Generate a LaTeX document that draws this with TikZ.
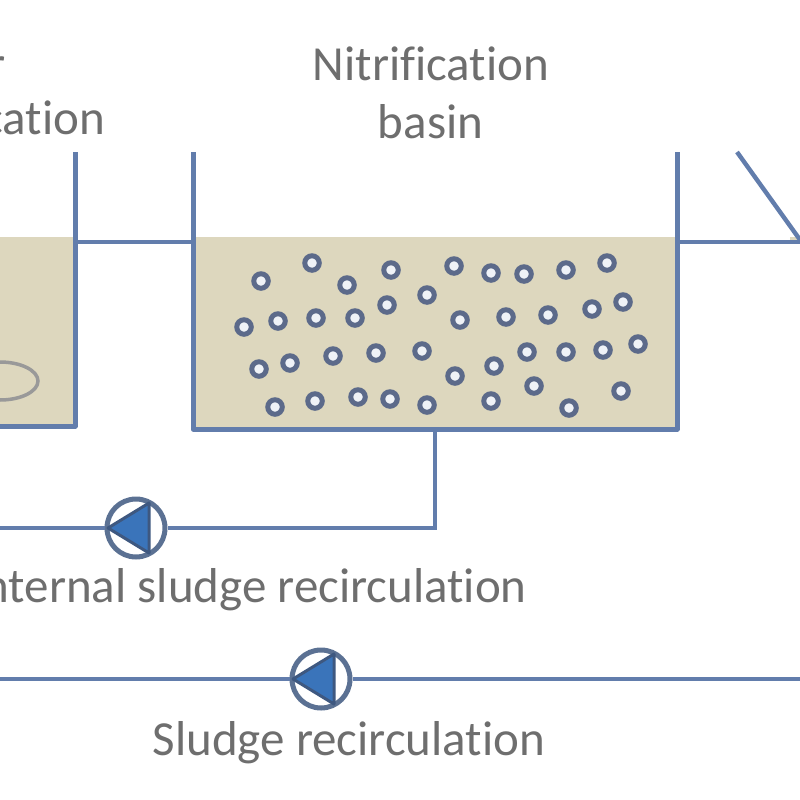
\documentclass[tikz,border=0pt]{standalone}
\usepackage{fontspec}
\usetikzlibrary{shapes.geometric}
\setmainfont[Ligatures=NoCommon]{Carlito}
\definecolor{pipeblue}{RGB}{98,125,172}
\definecolor{sludge}{RGB}{221,215,190}
\definecolor{ringblue}{RGB}{92,106,138}
\definecolor{pumpblue}{RGB}{58,116,186}
\definecolor{pumpdark}{RGB}{62,88,128}
\definecolor{labelgrey}{RGB}{110,110,110}
\tikzset{
  pipe/.style={draw=pipeblue,line width=4pt},
  wall/.style={draw=pipeblue,line width=5pt,line join=round},
  bead/.style={circle,draw=ringblue,fill=white!90!pipeblue,line width=5pt,minimum size=14.5pt,inner sep=0pt},
  pumpbody/.style={circle,draw=pumpdark!85,fill=white,line width=5pt,minimum size=58pt,inner sep=0pt},
  lbl/.style={text=labelgrey,font=\fontsize{49}{49}\selectfont,inner sep=0pt},
}
\begin{document}
\begin{tikzpicture}[x=1pt,y=-1pt]
\useasboundingbox (0,0) rectangle (800,800);
\clip (0,0) rectangle (800,800);
% sludge
\fill[sludge] (0,237) rectangle (75,426);
\fill[sludge] (193,237) rectangle (677,429);
\fill[sludge] (790,237) rectangle (800,240);
% ellipse
\node[ellipse,draw=gray!80,line width=3.5pt,minimum width=76pt,minimum height=38pt,inner sep=0pt] (disc) at (0,381) {};
% coordinates of walls
\coordinate (lwalltop) at (75,152);
\coordinate (lwallbot) at (75,426);
\coordinate (lwallend) at (-5,426);
\coordinate (bwalltl) at (193,152);
\coordinate (bwallbl) at (193,429);
\coordinate (bwallbr) at (677,429);
\coordinate (bwalltr) at (677,152);
\coordinate (pipeL) at (75,242);
\coordinate (pipeM) at (193,242);
\coordinate (pipeR) at (677,242);
\coordinate (pipeE) at (805,242);
\coordinate (weirA) at (737,152);
\coordinate (weirB) at (803,244);
\coordinate (tap) at (435,429);
\coordinate (corner) at (435,528);
\coordinate (intEnd) at (-5,528);
\coordinate (recL) at (-5,679);
\coordinate (recR) at (805,679);
\draw[wall] (lwalltop) -- (lwallbot) -- (lwallend);
\draw[wall] (bwalltl) -- (bwallbl) -- (bwallbr) -- (bwalltr);
\draw[pipe] (pipeL) -- (pipeM);
\draw[pipe] (pipeR) -- (pipeE);
\draw[wall,line width=4.4pt] (weirA) -- (weirB);
% pumps
\node[pumpbody] (pumpA) at (136,528) {};
\node[pumpbody] (pumpB) at (321,679) {};
\draw[pipe] (tap) -- (corner) -- (pumpA);
\draw[pipe] (pumpA) -- (intEnd);
\draw[pipe] (pumpB) -- (recL);
\draw[pipe] (pumpB) -- (recR);
\foreach \p in {pumpA,pumpB}{
  \fill[pumpblue,draw=pumpdark,line width=3pt,line join=round]
    ([shift={(-28,0)}]\p.center) -- ([shift={(13,-25)}]\p.center) -- ([shift={(13,25)}]\p.center) -- cycle;
}
% beads
\foreach \x/\y in {
261/281,312/263,347/285,391/270,454/266,491/273,524/274,566/270,607/263,
244/327,278/321,316/318,355/318,387/305,427/295,460/320,506/317,548/315,592/309,623/302,
259/369,290/363,333/356,376/353,422/351,455/376,494/366,527/352,566/352,603/350,638/344,
275/407,315/401,358/397,390/399,427/405,491/401,534/386,569/408,621/391}{
  \node[bead] at (\x,\y) {};
}
% labels
\node[lbl,anchor=base] (t1) at (431,81) {Nitrification};
\node[lbl,anchor=base] (t2) at (430.5,138) {basin};
\node[lbl,anchor=base east] (t3) at (105,134) {cation};
\node[lbl,anchor=base east] (t0) at (6,81) {r};
\node[lbl,anchor=base east] (t4) at (527,602) {Internal sludge recirculation};
\node[lbl,anchor=base] (t5) at (349,755) {Sludge recirculation};
\end{tikzpicture}
\end{document}
